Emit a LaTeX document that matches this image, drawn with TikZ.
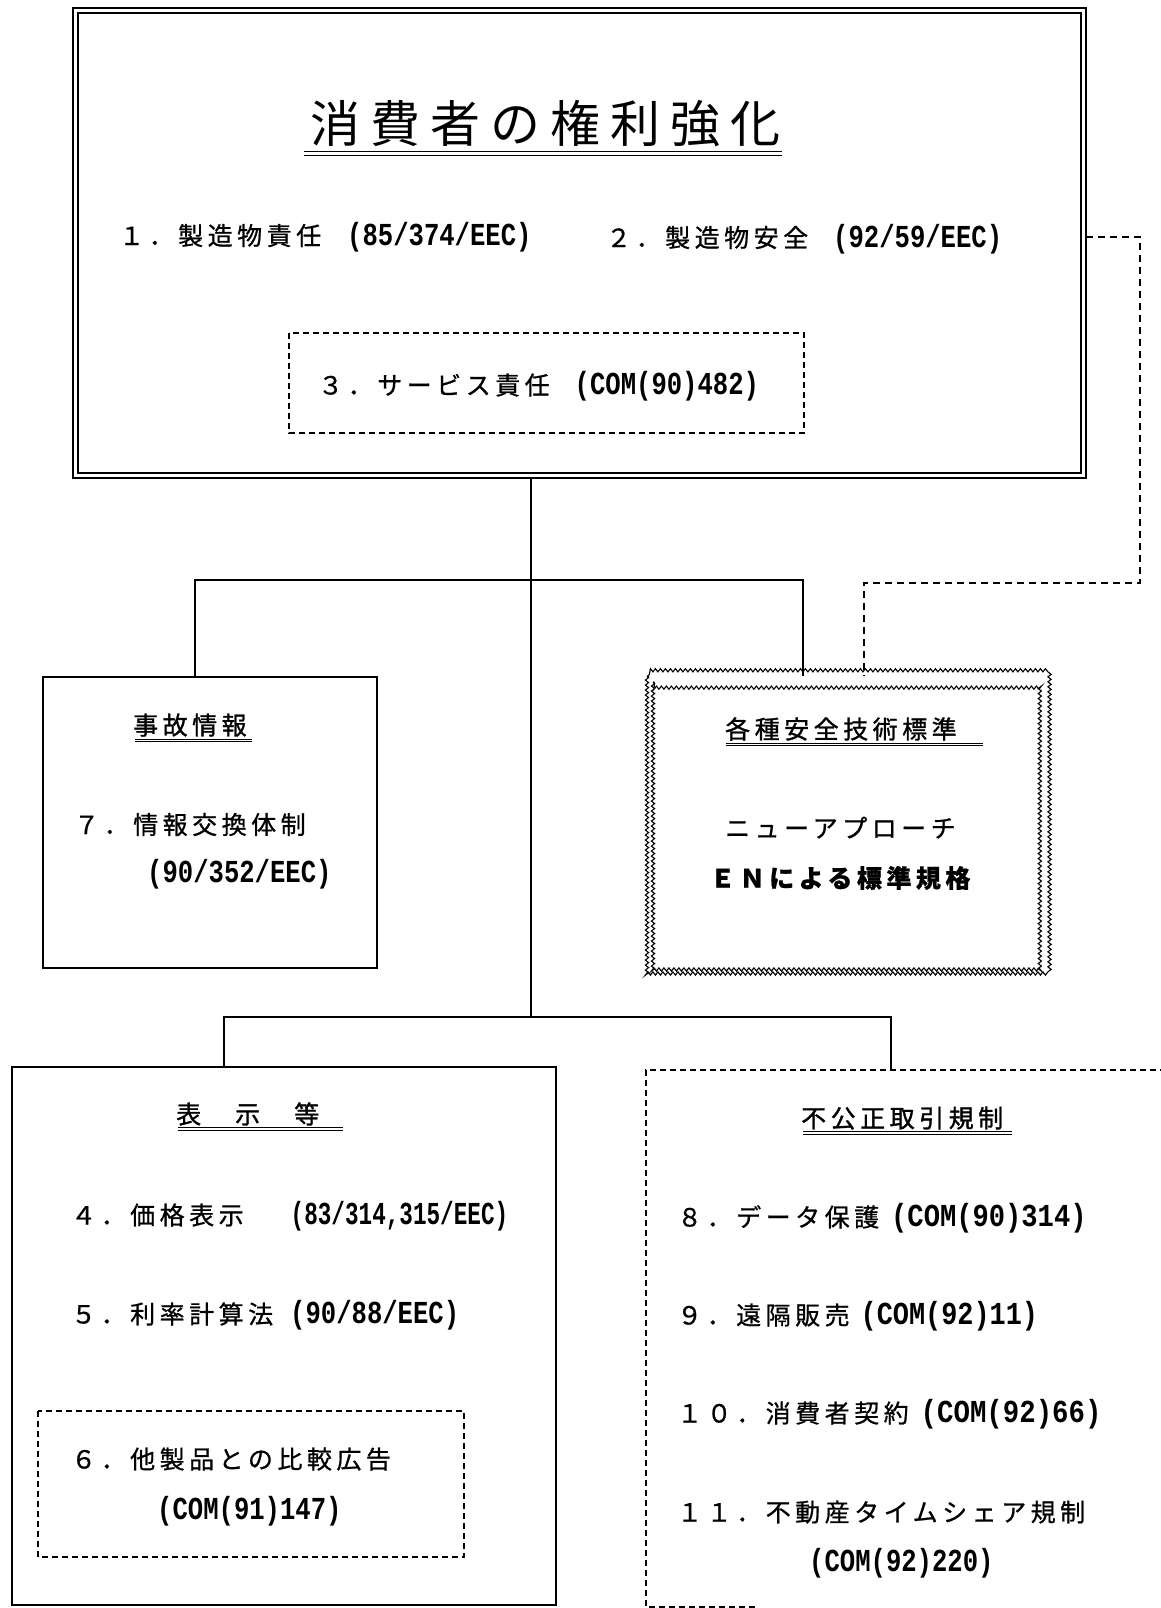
\documentclass[tikz,border=0pt]{standalone}
\usepackage{fontspec}
\usepackage{graphicx}
\usetikzlibrary{decorations.pathmorphing,calc}
\newfontfamily\jp[LetterSpace=18,FakeBold=0.8]{Noto Sans CJK JP}
\newfontfamily\jph[LetterSpace=18,FakeBold=1.2]{Noto Sans CJK JP}
\newfontfamily\jpt[LetterSpace=20]{Noto Sans CJK JP}
\newfontfamily\asc[FakeStretch=0.80]{Liberation Mono}
\newcommand\A[1]{{\asc\bfseries\fontsize{32}{32}\selectfont #1}}
\newcommand\As[2]{\scalebox{#1}[1]{\A{#2}}}
\begin{document}
\begin{tikzpicture}[x=1pt,y=-1pt,
  frame/.style={inner sep=0pt, outer sep=0pt},
  box/.style={frame, draw, line width=1.4pt},
  dbox/.style={line width=1.4pt, dash pattern=on 6pt off 4pt},
  wire/.style={line width=1.3pt},
  dwire/.style={line width=1.4pt, dash pattern=on 7pt off 5pt},
  wavy/.style={line width=1.1pt, decorate, decoration={snake, segment length=5pt, amplitude=1.6pt}},
  txt/.style={inner sep=0pt, anchor=base west, font=\jp\fontsize{25}{30}\selectfont},
  uline/.style={double, double distance=1.6pt, line width=0.9pt}]
\useasboundingbox (0,0) rectangle (1160,1608);

% ---------- boxes ----------
\node[box, line width=1.6pt, minimum width=1013pt, minimum height=470pt] (top) at (579.5,243) {};
\node[box, line width=1.1pt, minimum width=1003pt, minimum height=460pt] (topin) at (579.5,243) {};
\node[frame, minimum width=515pt, minimum height=100pt] (b3) at (546.5,383) {};
\draw[dbox] (b3.north west) rectangle (b3.south east);

\node[box, minimum width=334pt, minimum height=291pt] (b7) at (210,822.5) {};

\node[frame, minimum width=402pt, minimum height=299pt] (wav) at (848,825.5) {};
\node[frame, minimum width=390pt, minimum height=287pt] (wavin) at (848,825.5) {};
\draw[wavy] (wav.north west) rectangle (wav.south east);
\draw[wavy] (wavin.north west) rectangle (wavin.south east);

\node[box, minimum width=544pt, minimum height=538pt] (b4) at (284,1336) {};
\node[frame, minimum width=426pt, minimum height=146pt] (b6) at (251,1484) {};
\draw[dbox] (b6.north west) rectangle (b6.south east);

\node[frame, minimum width=560pt, minimum height=570pt] (b8) at (926,1355) {};
\draw[dbox] (b8.north east) -- (b8.north west) -- ($(b8.north west)+(0,537)$) -- ++(110,0);

% ---------- connectors ----------
\coordinate (j1) at (531,580);
\coordinate (j2) at (531,1017);
\coordinate (d7) at (195,580);
\coordinate (dw) at (803,580);
\coordinate (d4) at (224,1017);
\coordinate (d8) at (891,1017);
\coordinate (c2) at (1140,237);
\coordinate (c3) at (864,583);

\draw[wire] (top.south -| j1) -- (j2);
\draw[wire] (b7.north -| d7) -- (d7) -- (dw) -- (wav.north -| dw);
\draw[wire] (b4.north -| d4) -- (d4) -- (d8) -- (b8.north -| d8);
\draw[dwire] (top.east |- c2) -- (c2) -- (c2 |- c3) -- (c3) -- (wav.north -| c3);

% ---------- texts ----------
\node[inner sep=0pt, anchor=base, font=\jpt\fontsize{50}{50}\selectfont] (title) at (545,142.5) {消費者の権利強化};
\draw[uline, double distance=2.4pt] (304,153.5) -- (782,153.5);

\node[txt] (t1) at (119,245) {１．製造物責任\hspace{26pt}\A{(85/374/EEC)}};
\node[txt] (t2) at (606,247) {２．製造物安全\hspace{25pt}\A{(92/59/EEC)}};
\node[txt] (t3) at (318,394.5) {３．サービス責任\hspace{25pt}\A{(COM(90)482)}};

\node[txt, font=\jph\fontsize{25}{30}\selectfont] (h7) at (133,734.5) {事故情報};
\draw[uline] (135,740.5) -- (252,740.5);
\node[txt] (t7) at (74,834) {７．情報交換体制};
\node[txt] (t7b) at (147,882) {\A{(90/352/EEC)}};

\node[txt, font=\jph\fontsize{25}{30}\selectfont] (hw) at (725,738.5) {各種安全技術標準};
\draw[uline] (726,744.5) -- (983,744.5);
\node[txt] (tw1) at (725,837.5) {ニューアプローチ};
\node[txt, font=\jp\bfseries\fontsize{25}{30}\selectfont] (tw2) at (710,887.5) {ＥＮによる標準規格};

\node[txt, font=\jph\fontsize{25}{30}\selectfont] (h4) at (176,1123.5) {表　示　等};
\draw[uline] (178,1129) -- (343,1129);
\node[txt] (t4) at (71,1224.5) {４．価格表示\hspace{47pt}\As{0.885}{(83/314,315/EEC)}};
\node[txt] (t5) at (71,1323.5) {５．利率計算法\hspace{17pt}\A{(90/88/EEC)}};
\node[txt] (t6) at (71,1468.5) {６．他製品との比較広告};
\node[txt] (t6b) at (157,1519.5) {\A{(COM(91)147)}};

\node[txt, font=\jph\fontsize{25}{30}\selectfont] (h8) at (801,1127.5) {不公正取引規制};
\draw[uline] (803,1133) -- (1012,1133);
\node[txt] (t8) at (677,1226.5) {８．データ保護\hspace{12pt}\As{1.06}{(COM(90)314)}};
\node[txt] (t9) at (677,1324.5) {９．遠隔販売\hspace{11pt}\As{1.05}{(COM(92)11)}};
\node[txt] (t10) at (677,1422.5) {１０．消費者契約\hspace{12pt}\As{1.07}{(COM(92)66)}};
\node[txt] (t11) at (677,1521.5) {１１．不動産タイムシェア規制};
\node[txt] (t11b) at (809,1571) {\A{(COM(92)220)}};
\end{tikzpicture}
\end{document}
